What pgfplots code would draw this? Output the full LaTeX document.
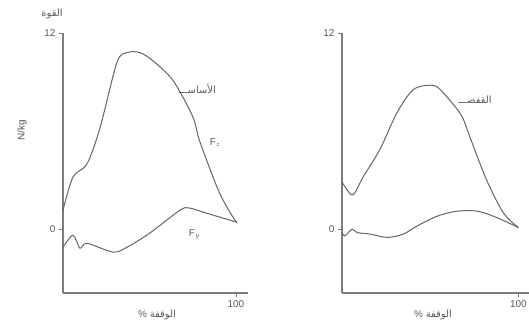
\documentclass[border=0pt]{standalone}
\usepackage{pgfplots}
\pgfplotsset{compat=1.18}
\usepackage{fontspec}
\setmainfont{Liberation Sans}
\newfontfamily\arabicfont[Script=Arabic]{DejaVu Sans}
\TeXXeTstate=1
\definecolor{axgray}{RGB}{125,125,125}
\definecolor{lngray}{RGB}{100,100,100}
\definecolor{txgray}{RGB}{90,90,90}
\pgfplotsset{
  panel/.style={
    scale only axis,
    anchor=south west,
    xmin=0, xmax=107,
    ymin=-3.9, ymax=12,
    axis lines=left,
    axis line style={-, axgray, line width=1.3pt},
    xtick={100}, ytick={0,12},
    tick style={axgray, line width=0.6pt},
    major tick length=4pt,
    tick align=outside,
    tick label style={font=\fontsize{10}{12}\selectfont, text=txgray},
    /pgf/number format/assume math mode=true,
    clip=false,
  },
  crv/.style={lngray, line width=1pt, smooth, tension=0.5, no marks},
}
\begin{document}
\begin{tikzpicture}
\path[use as bounding box] (0,0) rectangle (529bp,336bp);
% left panel
\begin{axis}[panel, at={(63bp,43bp)}, width=185bp, height=260bp]
\addplot[crv] coordinates {
(0,1.16) (5.8,3.2) (13.9,4.0) (21.4,6.2) (31.2,10.2) (37,10.8) (44.5,10.8)
(52,10.3) (63.6,9.1) (75,6.9) (79,5.4) (89,2.6) (94.8,1.35) (100.6,0.37)};
\addplot[crv] coordinates {
(0,-1.1) (5.8,-0.37) (9.8,-1.16) (13.9,-0.86) (29,-1.4) (37,-1.1) (50,-0.25)
(67.6,1.16) (73,1.3) (83,0.98) (100.6,0.43)};
\node[font=\fontsize{10}{12}\selectfont, text=txgray, anchor=west] at (axis cs:65,8.6) {\arabicfont\beginR الأساســـ\endR};
\node[font=\fontsize{10}{12}\selectfont, text=txgray] at (axis cs:88,5.3) {F$_z$};
\node[font=\fontsize{10}{12}\selectfont, text=txgray] at (axis cs:76,-0.3) {F$_y$};
\end{axis}
% right panel
\begin{axis}[panel, at={(342bp,43bp)}, width=187bp, height=260bp, xmax=106]
\addplot[crv] coordinates {
(0,2.9) (1.7,2.6) (6.2,2.1) (12,3.2) (21.6,4.9) (31,7.1) (40,8.5) (48,8.8)
(54,8.7) (61,7.9) (68,6.9) (73,5.5) (82,3.0) (91.5,1.0) (100,0.1)};
\addplot[crv] coordinates {
(0,-0.2) (1.7,-0.4) (5.7,0) (8.5,-0.2) (16,-0.3) (25.6,-0.5) (34.7,-0.3) (42.6,0.2)
(54,0.8) (65,1.1) (77,1.1) (88,0.7) (100,0.1)};
\node[font=\fontsize{10}{12}\selectfont, text=txgray, anchor=west] at (axis cs:64,7.9) {\arabicfont\beginR القفصـــ\endR};
\end{axis}
% texts
\node[font=\fontsize{10}{12}\selectfont, text=txgray] at (52bp,322bp) {\arabicfont\beginR القوة\endR};
\node[font=\fontsize{10}{12}\selectfont, text=txgray, rotate=90] at (22bp,206bp) {N/kg};
\node[font=\fontsize{10}{12}\selectfont, text=txgray] at (157bp,21bp) {\% {\arabicfont\beginR الوقفة\endR}};
\node[font=\fontsize{10}{12}\selectfont, text=txgray] at (433bp,21bp) {\% {\arabicfont\beginR الوقفة\endR}};
\end{tikzpicture}
\end{document}
